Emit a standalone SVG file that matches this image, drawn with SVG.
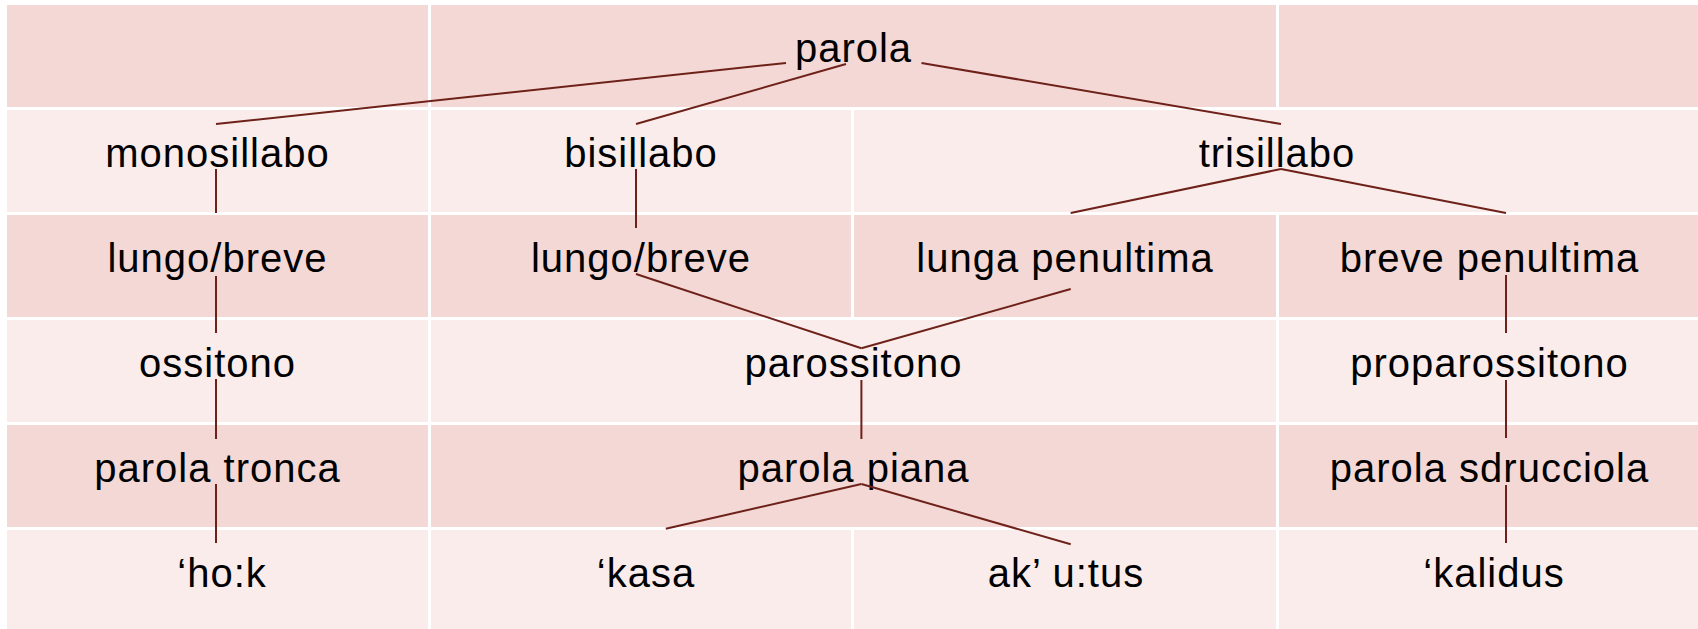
<svg xmlns="http://www.w3.org/2000/svg" width="1698" height="629" viewBox="0 0 1698 629">
  <style>
    .dark { fill: #F3D8D6; }
    .light { fill: #F9ECEB; }
    .lbl { font-family: "Liberation Sans", Arial, sans-serif; font-size: 40px; letter-spacing: 1px; fill: #000; text-anchor: middle; }
    .edge { stroke: #6E2119; stroke-width: 2; fill: none; stroke-linecap: butt; }
  </style>
  <rect width="1698" height="629" fill="#FFFFFF"/>

  <!-- table cells (banded rows, merged cells where a label spans columns) -->
  <g id="table">
    <!-- row 1 -->
    <rect class="dark" x="7" y="5" width="421" height="102"/>
    <rect class="dark" x="431" y="5" width="845" height="102"/>
    <rect class="dark" x="1279" y="5" width="419" height="102"/>
    <!-- row 2 -->
    <rect class="light" x="7" y="110" width="421" height="102"/>
    <rect class="light" x="431" y="110" width="420" height="102"/>
    <rect class="light" x="854" y="110" width="844" height="102"/>
    <!-- row 3 -->
    <rect class="dark" x="7" y="215" width="421" height="102"/>
    <rect class="dark" x="431" y="215" width="420" height="102"/>
    <rect class="dark" x="854" y="215" width="422" height="102"/>
    <rect class="dark" x="1279" y="215" width="419" height="102"/>
    <!-- row 4 -->
    <rect class="light" x="7" y="320" width="421" height="102"/>
    <rect class="light" x="431" y="320" width="845" height="102"/>
    <rect class="light" x="1279" y="320" width="419" height="102"/>
    <!-- row 5 -->
    <rect class="dark" x="7" y="425" width="421" height="102"/>
    <rect class="dark" x="431" y="425" width="845" height="102"/>
    <rect class="dark" x="1279" y="425" width="419" height="102"/>
    <!-- row 6 -->
    <rect class="light" x="7" y="530" width="421" height="99"/>
    <rect class="light" x="431" y="530" width="420" height="99"/>
    <rect class="light" x="854" y="530" width="422" height="99"/>
    <rect class="light" x="1279" y="530" width="419" height="99"/>
  </g>

  <!-- labels -->
  <g id="n-parola"><text class="lbl" x="853.5" y="62">parola</text></g>
  <g id="n-monosillabo"><text class="lbl" x="217.5" y="167">monosillabo</text></g>
  <g id="n-bisillabo"><text class="lbl" x="641" y="167">bisillabo</text></g>
  <g id="n-trisillabo"><text class="lbl" x="1277" y="167">trisillabo</text></g>
  <g id="n-lungobreve1"><text class="lbl" x="217.5" y="272">lungo/breve</text></g>
  <g id="n-lungobreve2"><text class="lbl" x="641" y="272">lungo/breve</text></g>
  <g id="n-lungapen"><text class="lbl" x="1065" y="272">lunga penultima</text></g>
  <g id="n-brevepen"><text class="lbl" x="1489.5" y="272">breve penultima</text></g>
  <g id="n-ossitono"><text class="lbl" x="217.5" y="377">ossitono</text></g>
  <g id="n-parossitono"><text class="lbl" x="853.5" y="377">parossitono</text></g>
  <g id="n-proparossitono"><text class="lbl" x="1489.5" y="377">proparossitono</text></g>
  <g id="n-tronca"><text class="lbl" x="217.5" y="481.5">parola tronca</text></g>
  <g id="n-piana"><text class="lbl" x="853.5" y="481.5">parola piana</text></g>
  <g id="n-sdrucciola"><text class="lbl" x="1489.5" y="481.5">parola sdrucciola</text></g>
  <g id="n-hok"><text class="lbl" x="222" y="586.5">‘ho:k</text></g>
  <g id="n-kasa"><text class="lbl" x="646" y="586.5">‘kasa</text></g>
  <g id="n-akutus"><text class="lbl" x="1066" y="586.5">ak’ u:tus</text></g>
  <g id="n-kalidus"><text class="lbl" x="1494" y="586.5">‘kalidus</text></g>

  <!-- tree branches -->
  <g id="connectors" class="edge">
    <line x1="786" y1="63" x2="216" y2="124"/>
    <line x1="846" y1="64" x2="636" y2="124"/>
    <line x1="921.5" y1="63" x2="1281" y2="124"/>

    <line x1="216" y1="169" x2="216" y2="213"/>
    <line x1="636" y1="169" x2="636" y2="228"/>
    <line x1="1281" y1="169" x2="1070.7" y2="213"/>
    <line x1="1281" y1="169" x2="1506" y2="213"/>

    <line x1="216" y1="276" x2="216" y2="333"/>
    <line x1="636" y1="274" x2="861.4" y2="348.3"/>
    <line x1="1070.7" y1="289" x2="861.4" y2="348.3"/>
    <line x1="1506" y1="275" x2="1506" y2="333"/>

    <line x1="216" y1="379" x2="216" y2="439"/>
    <line x1="861.4" y1="380" x2="861.4" y2="439"/>
    <line x1="1506" y1="380" x2="1506" y2="438"/>

    <line x1="216" y1="484" x2="216" y2="543"/>
    <line x1="861.4" y1="484" x2="665.8" y2="528.7"/>
    <line x1="861.4" y1="484" x2="1070.7" y2="544.3"/>
    <line x1="1506" y1="485" x2="1506" y2="543"/>
  </g>
</svg>
